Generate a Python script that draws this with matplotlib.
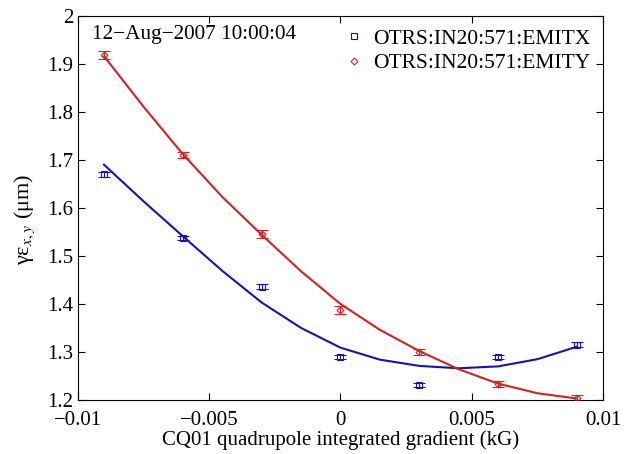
import matplotlib
matplotlib.use('Agg')
import matplotlib.pyplot as plt
import numpy as np

plt.rcParams['font.family'] = ['Liberation Serif', 'DejaVu Serif']
plt.rcParams['mathtext.fontset'] = 'stix'

# quadrupole settings (kG)
gradient = [-0.009, -0.006, -0.003, 0.0, 0.003, 0.006, 0.009]

# measured normalized emittances (um) and their errors
emit_x = [1.670, 1.538, 1.436, 1.290, 1.232, 1.290, 1.315]
emit_x_err = [0.005, 0.004, 0.005, 0.004, 0.004, 0.004, 0.005]
emit_y = [1.918, 1.710, 1.545, 1.388, 1.300, 1.234, 1.204]
emit_y_err = [0.008, 0.007, 0.008, 0.008, 0.006, 0.006, 0.006]

# fitted curves
fit_grad = [-0.009, -0.0075, -0.006, -0.0045, -0.003, -0.0015, 0.0,
            0.0015, 0.003, 0.0045, 0.006, 0.0075, 0.009]
fit_x = [1.690, 1.614, 1.541, 1.469, 1.403, 1.350, 1.309,
         1.284, 1.271, 1.266, 1.270, 1.285, 1.311]
fit_y = [1.916, 1.811, 1.712, 1.623, 1.544, 1.468, 1.400,
         1.346, 1.302, 1.264, 1.234, 1.214, 1.203]

blue = '#1414b0'
red = '#d42222'

fig = plt.figure(figsize=(6.27, 4.54), dpi=100)
ax = fig.add_axes([0.124, 0.119, 0.838, 0.846])

ax.errorbar(gradient, emit_x, yerr=emit_x_err, fmt='s', color=blue,
            mfc='none', ms=4, mew=0.8, elinewidth=0.8, capsize=4,
            capthick=0.8, label='OTRS:IN20:571:EMITX', zorder=3)
ax.errorbar(gradient, emit_y, yerr=emit_y_err, fmt='D', color=red,
            mfc='none', ms=3.5, mew=0.8, elinewidth=0.8, capsize=4,
            capthick=0.8, label='OTRS:IN20:571:EMITY', zorder=3)
ax.plot(fit_grad, fit_x, color=blue, lw=1.5)
ax.plot(fit_grad, fit_y, color=red, lw=1.5)

ax.set_xlim(-0.01, 0.01)
ax.set_ylim(1.2, 2.0)
ax.set_xticks([-0.01, -0.005, 0, 0.005, 0.01])
ax.set_xticklabels(['\u22120.01', '\u22120.005', '0', '0.005', '0.01'])
ax.set_yticks(np.arange(1.2, 2.01, 0.1))
ax.set_yticklabels(['1.2', '1.3', '1.4', '1.5', '1.6', '1.7', '1.8', '1.9', '2'])
ax.tick_params(direction='in', top=True, right=True, length=5,
               labelsize=15, width=0.8)
ax.tick_params(axis='x', pad=8)
ax.tick_params(axis='y', pad=3)
for s in ax.spines.values():
    s.set_linewidth(0.8)

ax.set_xlabel('CQ01 quadrupole integrated gradient (kG)', fontsize=15, labelpad=0)
ax.set_ylabel('\u03b3\u03b5$_{x,y}$ (\u03bcm)', fontsize=16)
ax.yaxis.set_label_coords(-0.078, 0.47)

ax.text(0.027, 0.975, '12\u2212Aug\u22122007 10:00:04', transform=ax.transAxes,
        ha='left', va='top', fontsize=15.3)

h, l = ax.get_legend_handles_labels()
h = [x[0] for x in h]
ax.legend(h, l, loc='upper right', frameon=False, fontsize=15.5,
          handlelength=0.8, handletextpad=0.5, borderaxespad=0.4,
          labelspacing=0.2, borderpad=0.2)

fig.savefig('out.png', dpi=100)
